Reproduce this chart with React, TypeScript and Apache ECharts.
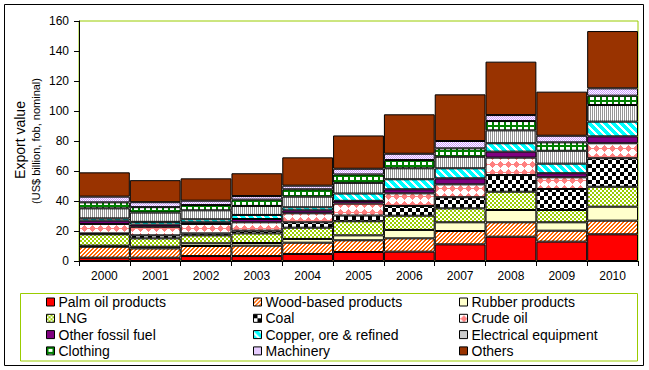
import React, { useEffect, useRef } from "react";
import * as echarts from "echarts";

const years = ["2000", "2001", "2002", "2003", "2004", "2005", "2006", "2007", "2008", "2009", "2010"];
const palmOil = [2.2, 2.2, 3.3, 3.3, 4.7, 6.0, 6.2, 11.1, 16.2, 12.9, 17.8];
const woodBased = [7.3, 6.2, 6.7, 6.9, 7.5, 7.8, 8.9, 8.9, 9.6, 7.3, 9.1];
const rubber = [0.7, 1.1, 1.8, 1.8, 2.5, 3.3, 5.6, 5.8, 8.2, 5.6, 9.3];
const lng = [7.6, 5.6, 5.3, 6.4, 7.5, 9.4, 9.5, 9.3, 12.2, 8.2, 13.3];
const coal = [0.6, 2.0, 1.3, 1.8, 3.6, 3.8, 6.5, 7.4, 11.1, 14.0, 19.0];
const crudeOil = [6.3, 5.7, 6.3, 5.6, 6.0, 8.0, 8.4, 8.6, 11.6, 7.8, 10.0];
const otherFossil = [2.2, 1.5, 1.1, 2.2, 2.0, 1.8, 2.7, 4.0, 4.0, 2.7, 4.6];
const copper = [1.5, 1.8, 2.0, 2.7, 2.0, 4.9, 6.7, 6.7, 5.6, 6.4, 9.8];
const electrical = [6.7, 6.2, 6.0, 6.0, 7.1, 7.1, 7.3, 7.7, 8.6, 8.6, 11.1];
const clothing = [4.0, 3.6, 3.5, 4.2, 4.9, 5.6, 5.5, 5.6, 6.2, 5.6, 6.2];
const machinery = [3.8, 3.3, 2.9, 2.4, 2.4, 3.8, 4.2, 4.9, 4.0, 4.4, 4.9];
const others = [16.2, 14.7, 14.9, 15.2, 18.9, 22.2, 26.3, 31.1, 35.6, 29.4, 38.2];

const seriesNames = [
  "Palm oil products", "Wood-based products", "Rubber products",
  "LNG", "Coal", "Crude oil",
  "Other fossil fuel", "Copper, ore & refined", "Electrical equipment",
  "Clothing", "Machinery", "Others",
];
const seriesData = [palmOil, woodBased, rubber, lng, coal, crudeOil, otherFossil, copper, electrical, clothing, machinery, others];

const yMin = 0;
const yMax = 160;
const yStep = 20;

const FONT = "'Liberation Sans', Arial, sans-serif";

function tile(w: number, h: number, fn: (x: number, y: number) => string | null) {
  const c = document.createElement("canvas");
  c.width = w;
  c.height = h;
  const ctx = c.getContext("2d")!;
  ctx.fillStyle = "#FFFFFF";
  ctx.fillRect(0, 0, w, h);
  for (let y = 0; y < h; y++) {
    for (let x = 0; x < w; x++) {
      const col = fn(x, y);
      if (col) {
        ctx.fillStyle = col;
        ctx.fillRect(x, y, 1, 1);
      }
    }
  }
  return { image: c, repeat: "repeat", imageWidth: w, imageHeight: h } as any;
}

function makeFills(): any[] {
  const orange = "#FF6600";
  const lngGreen = "#99CC00";
  const pink = "#FF8080";
  const cyan = "#00FFFF";
  const gray = "#969696";
  const green = "#008000";
  const lav = "#CC99FF";
  return [
    "#FF0000",
    tile(4, 4, (x, y) => ((x + y) % 4 < 2 ? orange : null)),
    "#FFFFCC",
    tile(4, 4, (x, y) => ((Math.floor(x / 2) + Math.floor(y / 2)) % 2 === 0 ? lngGreen : null)),
    tile(8, 8, (x, y) => ((Math.floor(x / 4) + Math.floor(y / 4)) % 2 === 0 ? "#000000" : null)),
    tile(8, 8, (x, y) => {
      const dx = Math.abs(x - 4);
      const dy = Math.abs(y - 4);
      if (dx + dy <= 3) return pink;
      if (y === 4) return pink;
      return null;
    }),
    "#800080",
    tile(8, 8, (x, y) => ((((x - y) % 8) + 8) % 8 < 5 ? cyan : null)),
    tile(2, 2, (x) => (x === 0 ? gray : null)),
    tile(6, 5, (x, y) => (x < 2 || y < 2 ? green : null)),
    tile(2, 2, (x, y) => ((x + y) % 2 === 0 ? lav : null)),
    "#993300",
  ];
}

export default function App() {
  const ref = useRef<HTMLDivElement>(null);

  useEffect(() => {
    if (!ref.current) return;
    const chart = echarts.init(ref.current, null, { renderer: "svg" });
    const fills = makeFills();

    const series = seriesNames.map((name, i) => ({
      name,
      type: "bar",
      stack: "total",
      data: seriesData[i],
      barCategoryGap: "0%",
      itemStyle: { color: fills[i], borderColor: "#000000", borderWidth: 1 },
      emphasis: { disabled: true },
    }));

    const legendCol = (idx: number[], left: number) => ({
      orient: "vertical",
      left,
      top: 295,
      padding: 0,
      itemGap: 2.3,
      itemWidth: 8,
      itemHeight: 8,
      icon: "rect",
      selectedMode: false,
      data: idx.map((k) => seriesNames[k]),
      itemStyle: { borderColor: "#000000", borderWidth: 1 },
      textStyle: { fontFamily: FONT, fontSize: 14, color: "#000000", padding: [0, 0, 0, -1] },
    });

    chart.setOption({
      animation: false,
      backgroundColor: "#FFFFFF",
      grid: {
        left: 79,
        right: 11,
        top: 21,
        bottom: 109,
        show: true,
        borderColor: "#99CC00",
        borderWidth: 1,
        backgroundColor: "transparent",
      },
      xAxis: {
        type: "category",
        data: years,
        axisLine: { lineStyle: { color: "#000000", width: 1 } },
        axisTick: { show: true, length: 5, lineStyle: { color: "#000000" } },
        axisLabel: { fontFamily: FONT, fontSize: 12, color: "#000000", margin: 9, interval: 0 },
        splitLine: { show: false },
      },
      yAxis: {
        type: "value",
        min: yMin,
        max: yMax,
        interval: yStep,
        axisLine: { show: true, lineStyle: { color: "#000000", width: 1 } },
        axisTick: { show: true, length: 5, lineStyle: { color: "#000000" } },
        axisLabel: { fontFamily: FONT, fontSize: 12, color: "#000000", margin: 10 },
        splitLine: { show: false },
      },
      legend: [
        legendCol([0, 3, 6, 9], 46),
        legendCol([1, 4, 7, 10], 253),
        legendCol([2, 5, 8, 11], 459),
      ],
      graphic: [
        {
          type: "rect",
          silent: true,
          shape: { x: 4.5, y: 4.5, width: 639, height: 361 },
          style: { fill: "none", stroke: "#000000", lineWidth: 1 },
        },
        {
          type: "rect",
          silent: true,
          shape: { x: 20.5, y: 293.5, width: 617, height: 67.5 },
          style: { fill: "none", stroke: "#99CC00", lineWidth: 1 },
        },
        {
          type: "text",
          silent: true,
          x: 20,
          y: 140,
          rotation: Math.PI / 2,
          style: {
            text: "Export value",
            fontFamily: FONT,
            fontSize: 14,
            fill: "#000000",
            align: "center",
            verticalAlign: "middle",
          },
        },
        {
          type: "text",
          silent: true,
          x: 36,
          y: 141,
          rotation: Math.PI / 2,
          style: {
            text: "(US$ billion, fob, nominal)",
            fontFamily: FONT,
            fontSize: 11,
            fill: "#000000",
            align: "center",
            verticalAlign: "middle",
          },
        },
      ],
      series,
    } as any);

    return () => chart.dispose();
  }, []);

  return (
    <div
      ref={ref}
      style={{ position: "absolute", left: 0, top: 0, width: 649, height: 370 }}
    />
  );
}
